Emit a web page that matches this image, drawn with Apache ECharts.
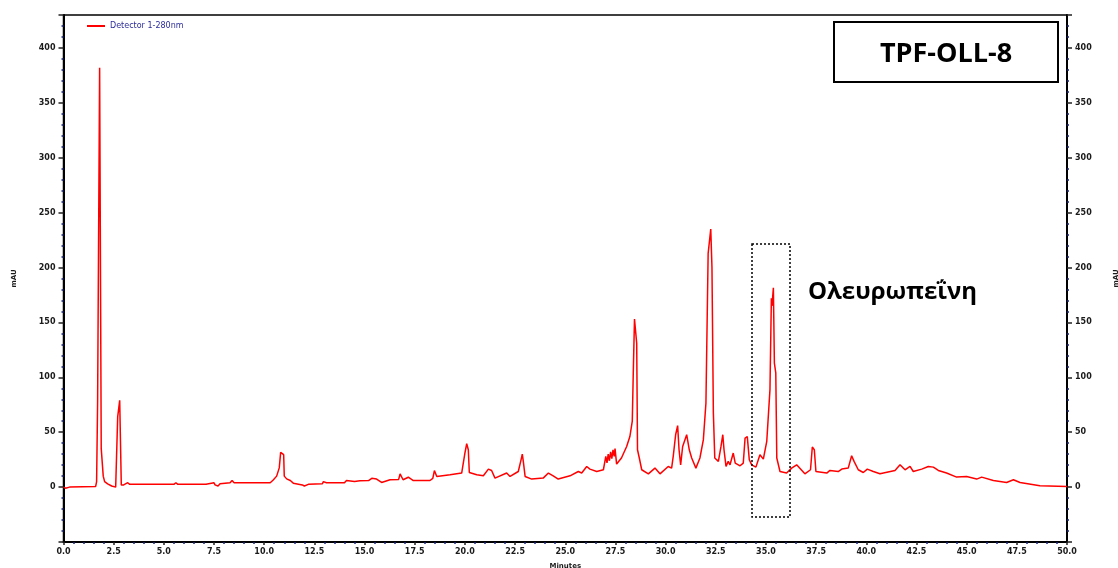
<!DOCTYPE html>
<html>
<head>
<meta charset="utf-8">
<script src="https://cdn.jsdelivr.net/npm/echarts@6/dist/echarts.min.js"></script>
<style>
html,body{margin:0;padding:0;background:#fff;}
#chart{width:1118px;height:568px;}
</style>
</head>
<body>
<div id="chart"></div>
<script>
// Retention time (minutes)
const times = [
  0, 0.1, 0.3, 1.6, 1.65, 1.7, 1.76, 1.8, 1.84, 1.88, 1.94, 1.98, 2.05, 2.2, 2.4, 2.6,
  2.66, 2.7, 2.76, 2.8, 2.85, 2.88, 3.0, 3.2, 3.3, 4.6, 4.65, 4.7, 5.5, 5.6, 5.7, 6.2,
  6.25, 6.3, 7.1, 7.15, 7.5, 7.55, 7.7, 7.8, 8.3, 8.4, 8.5, 10.3, 10.45, 10.62, 10.75, 10.82,
  10.9, 10.97, 11.0, 11.12, 11.3, 11.45, 11.9, 12.0, 12.2, 12.9, 12.95, 13.1, 14.0, 14.1, 14.5, 14.77,
  15.2, 15.36, 15.6, 15.85, 16.27, 16.7, 16.77, 16.92, 17.18, 17.43, 18.26, 18.4, 18.48, 18.56, 18.6, 19.26,
  19.84, 20.0, 20.09, 20.17, 20.22, 20.59, 20.92, 21.17, 21.33, 21.5, 22.08, 22.25, 22.66, 22.8, 22.86, 22.91,
  23.0, 23.33, 23.9, 24.16, 24.4, 24.65, 25.24, 25.65, 25.82, 26.07, 26.23, 26.57, 26.9, 27.02, 27.08, 27.14,
  27.2, 27.26, 27.32, 27.38, 27.44, 27.48, 27.56, 27.8, 28.06, 28.22, 28.34, 28.39, 28.45, 28.5, 28.56, 28.6,
  28.69, 28.81, 29.14, 29.47, 29.72, 30.13, 30.3, 30.38, 30.5, 30.6, 30.67, 30.75, 30.85, 31.05, 31.18, 31.3,
  31.51, 31.71, 31.88, 32.01, 32.12, 32.18, 32.25, 32.31, 32.38, 32.45, 32.63, 32.76, 32.85, 32.91, 33.01, 33.12,
  33.21, 33.37, 33.47, 33.71, 33.87, 33.96, 34.07, 34.17, 34.29, 34.5, 34.7, 34.87, 35.04, 35.2, 35.27, 35.3,
  35.33, 35.37, 35.42, 35.49, 35.54, 35.7, 36.03, 36.28, 36.53, 36.94, 37.22, 37.31, 37.41, 37.49, 38.03, 38.19,
  38.6, 38.78, 39.1, 39.27, 39.39, 39.6, 39.85, 40.05, 40.35, 40.68, 41.43, 41.68, 41.93, 42.18, 42.34, 42.76,
  43.09, 43.34, 43.59, 44.0, 44.5, 45.0, 45.5, 45.75, 46.33, 46.99, 47.33, 47.66, 48.65, 50.0
];
// Detector signal (mAU)
const mau = [
  0, -1, 0, 0.5, 5, 78, 78, 382, 382, 35, 35, 10, 5, 3, 1, 0,
  0, 64, 64, 79, 79, 2, 2, 4, 2.5, 2.5, 3.5, 2.5, 2.5, 4, 2.5, 2.5,
  4, 2.5, 2.5, 4, 4, 2, 1, 3, 4, 6, 4, 4, 6.5, 10, 17.5, 31.6,
  30, 29.5, 10, 7.5, 6, 3.6, 2, 1, 2.5, 3, 5, 4, 4, 6, 5, 5.7,
  6, 8, 7.3, 4.2, 6.7, 7, 12, 6.7, 9, 6, 6, 8, 15, 14, 9.7, 11.2,
  12.8, 31, 39.5, 34, 13.3, 11.2, 10.3, 16.4, 15.1, 8.2, 12.8, 9.7, 14.2, 25, 30, 23.4,
  9.7, 7.3, 8.2, 12.8, 10.3, 7.3, 10.3, 14.2, 12.8, 18.8, 16.4, 14.2, 15.8, 28, 22, 30,
  24, 32, 26, 34, 28, 35, 21, 26.5, 37, 46, 60, 104.6, 153, 153, 131, 34,
  26.5, 15.8, 12.1, 17.3, 12.1, 18.8, 17.3, 28, 47.7, 56, 34, 20.3, 37, 47.7, 34, 26.5,
  17.3, 26.5, 43, 76.6, 213, 213, 235, 200, 67.5, 26.5, 23.4, 37, 47.7, 34, 18.8, 23.4,
  20.3, 31, 21.9, 19.4, 21.9, 44.7, 46, 24.9, 20.3, 18.2, 29.5, 25.5, 41.6, 88.8, 172, 165,
  172, 181.6, 113, 104, 26.5, 14.2, 12.8, 17.3, 20.3, 12.1, 15.8, 36.5, 34, 14.2, 12.8, 15.2,
  14.2, 16.4, 17.3, 28.6, 23.4, 15.8, 13.3, 16.4, 14.2, 12.1, 15.2, 20.3, 15.8, 18.8, 14.2, 16.4,
  18.8, 18.2, 15.2, 12.8, 9.1, 9.7, 7.3, 9.1, 6, 4.2, 6.7, 4.2, 1.2, 0.5
];
const seriesName = 'Detector 1-280nm';
const sampleTitle = 'TPF-OLL-8';
const peakLabel = 'Ολευρωπεΐνη';
const xLabelName = 'Minutes';
const yLabelName = 'mAU';

const data = times.map((t, i) => [t, mau[i]]);

const chart = echarts.init(document.getElementById('chart'), null, {renderer: 'canvas'});

const labelStyle = {color: '#1a1a1a', fontSize: 8, fontFamily: 'DejaVu Sans', fontWeight: 'bold'};

function yAxisDef(pos) {
  return {
    type: 'value', position: pos, min: -50, max: 430, interval: 50,
    name: yLabelName, nameLocation: 'middle', nameGap: 46, nameRotate: 90,
    nameTextStyle: {fontSize: 7, color: '#1a1a1a', fontWeight: 'bold', fontFamily: 'DejaVu Sans'},
    axisLine: {show: true, onZero: false, lineStyle: {color: '#000', width: 2}},
    axisTick: {show: true, length: 5, lineStyle: {color: '#222', width: 1.5}},
    minorTick: {show: true, splitNumber: 5, length: 2, lineStyle: {color: '#1a237e', width: 1.5}},
    splitLine: {show: false},
    axisLabel: Object.assign({margin: 8, formatter: v => (v < 0 || v > 400) ? '' : String(v)}, labelStyle)
  };
}

chart.setOption({
  animation: false,
  backgroundColor: '#fff',
  grid: {left: 63.5, right: 51, top: 15, bottom: 26, show: true, borderColor: '#000', borderWidth: 1.5,
         containLabel: false, outerBoundsMode: 'none'},
  legend: {
    left: 82, top: 17, icon: 'rect', itemWidth: 18, itemHeight: 2,
    textStyle: {fontSize: 8, color: '#2b2b9a', fontFamily: 'DejaVu Sans'},
    data: [seriesName]
  },
  xAxis: {
    type: 'value', min: 0, max: 50, interval: 2.5,
    name: xLabelName, nameLocation: 'middle', nameGap: 21,
    nameTextStyle: {fontSize: 7, color: '#1a1a1a', fontWeight: 'bold', fontFamily: 'DejaVu Sans'},
    axisLine: {show: true, onZero: false, lineStyle: {color: '#000', width: 2}},
    axisTick: {show: true, length: 3, lineStyle: {color: '#222', width: 1.5}},
    minorTick: {show: true, splitNumber: 5, length: 2, lineStyle: {color: '#1a237e', width: 1.5}},
    splitLine: {show: false},
    axisLabel: Object.assign({margin: 6, formatter: v => v.toFixed(1)}, labelStyle)
  },
  yAxis: [yAxisDef('left'), yAxisDef('right')],
  series: [{
    name: seriesName, type: 'line', data: data, yAxisIndex: 0,
    showSymbol: false, symbol: 'none',
    lineStyle: {color: '#ff0000', width: 1.5}, itemStyle: {color: '#ff0000'}
  }],
  graphic: [
    {type: 'rect', shape: {x: 834, y: 22, width: 224, height: 60},
     style: {fill: '#fff', stroke: '#000', lineWidth: 2}, z: 10},
    {type: 'text', x: 946, y: 54, z: 11,
     style: {text: sampleTitle, fill: '#000', font: 'bold 27px "Open Sans"', textAlign: 'center', textVerticalAlign: 'middle'}},
    {type: 'rect', shape: {x: 752, y: 244, width: 38, height: 273},
     style: {fill: 'none', stroke: '#000', lineWidth: 1.5, lineDash: [2, 2]}, z: 10},
    {type: 'text', x: 808, y: 292, z: 11,
     style: {text: peakLabel, fill: '#000', font: 'bold 24px "Open Sans"', textAlign: 'left', textVerticalAlign: 'middle'}}
  ]
});
</script>
</body>
</html>
